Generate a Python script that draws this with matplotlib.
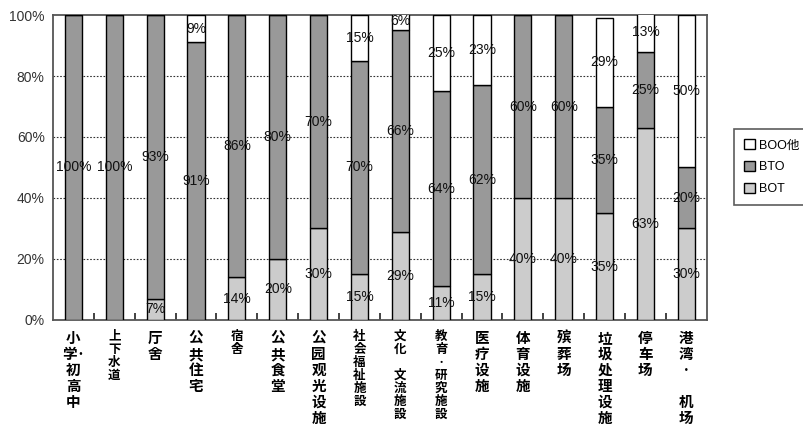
import numpy as np
import matplotlib.pyplot as plt
from matplotlib.ticker import FixedLocator, FuncFormatter

plt.rcParams['font.family'] = ['Liberation Sans', 'Noto Sans CJK JP']

categories = ["小学·初高中", "上下水道", "厅舍", "公共住宅", "宿舍", "公共食堂",
              "公园观光设施", "社会福祉施設", "文化 交流施設", "教育·研究施設",
              "医疗设施", "体育设施", "殡葬场", "垃圾处理设施", "停车场", "港湾·机场"]
# rows of each vertical label
label_rows = [["小", "学·", "初", "高", "中"], ["上", "下", "水", "道"], ["厅", "舍"],
              ["公", "共", "住", "宅"], ["宿", "舍"], ["公", "共", "食", "堂"],
              ["公", "园", "观", "光", "设", "施"], ["社", "会", "福", "祉", "施", "設"],
              ["文", "化", "", "文", "流", "施", "設"], ["教", "育", "·", "研", "究", "施", "設"],
              ["医", "疗", "设", "施"], ["体", "育", "设", "施"], ["殡", "葬", "场"],
              ["垃", "圾", "处", "理", "设", "施"], ["停", "车", "场"], ["港", "湾", "·", "", "机", "场"]]
small_labels = [1, 4, 7, 8, 9]

bot = [0, 0, 7, 0, 14, 20, 30, 15, 29, 11, 15, 40, 40, 35, 63, 30]
bto = [100, 100, 93, 91, 86, 80, 70, 70, 66, 64, 62, 60, 60, 35, 25, 20]
boo = [0, 0, 0, 9, 0, 0, 0, 15, 6, 25, 23, 0, 0, 29, 13, 50]

fig = plt.figure(figsize=(8.04, 4.30), dpi=100)
ax = fig.add_axes([0.066, 0.256, 0.813, 0.709])

x = np.arange(len(categories))
w = 0.42
bot_a = np.array(bot)
bto_a = np.array(bto)
boo_a = np.array(boo)

ax.bar(x, bot_a, w, color="#cccccc", edgecolor="black", linewidth=1, label="BOT", zorder=3)
ax.bar(x, bto_a, w, bottom=bot_a, color="#999999", edgecolor="black", linewidth=1, label="BTO", zorder=3)
ax.bar(x, boo_a, w, bottom=bot_a + bto_a, color="white", edgecolor="black", linewidth=1, label="BOO他", zorder=3)

for i in range(len(x)):
    base = 0
    for v in (bot[i], bto[i], boo[i]):
        if v > 0:
            ax.text(x[i], base + v / 2, f"{v}%", ha="center", va="center",
                    fontsize=10, color="#111111", zorder=4)
        base += v

ax.set_xlim(-0.5, len(x) - 0.5)
ax.set_ylim(0, 100)
ax.set_yticks([0, 20, 40, 60, 80, 100])
ax.yaxis.set_major_formatter(FuncFormatter(lambda v, p: f"{int(v)}%"))
ax.tick_params(axis="y", length=0, labelsize=10, colors="#333333", pad=6)
ax.set_xticks([])
ax.xaxis.set_minor_locator(FixedLocator(np.arange(len(x) - 1) + 0.5))
ax.tick_params(axis="x", which="minor", direction="in", length=5, width=1.2, color="#222222")
for yv in [20, 40, 60, 80]:
    ax.axhline(yv, color="#333333", linestyle=(0, (1.5, 1.5)), linewidth=0.8, zorder=1)
for s in ax.spines.values():
    s.set_color("#555555")
    s.set_linewidth(1.3)

for i, rows in enumerate(label_rows):
    small = i in small_labels
    ax.text(x[i], -3.3, "\n".join(rows), ha="center", va="top",
            fontsize=9 if small else 10.5, fontweight="bold",
            linespacing=1.0, transform=ax.transData,
            family=['Noto Sans CJK JP', 'DejaVu Sans'])

h, l = ax.get_legend_handles_labels()
leg = fig.legend(h[::-1], l[::-1], loc="upper left", bbox_to_anchor=(0.913, 0.70),
                 fontsize=9, frameon=True, fancybox=False, edgecolor="#333333",
                 handlelength=0.9, handleheight=0.9, handletextpad=0.3, borderpad=0.8,
                 labelspacing=0.75, borderaxespad=0)
leg.get_frame().set_linewidth(1.2)

fig.savefig("out.png", dpi=100)
